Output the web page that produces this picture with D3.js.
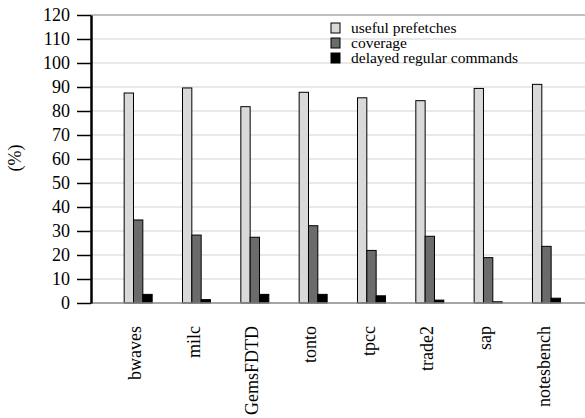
<!DOCTYPE html>
<html>
<head>
<meta charset="utf-8">
<script src="https://cdn.jsdelivr.net/npm/d3@7"></script>
<style>
  body { margin: 0; background: #fff; }
  svg text { font-family: "Liberation Serif", "DejaVu Serif", serif; fill: #000; }
</style>
</head>
<body>
<div id="chart"></div>
<script>
// data
const benchmarks = ["bwaves", "milc", "GemsFDTD", "tonto", "tpcc", "trade2", "sap", "notesbench"];
const seriesNames = ["useful prefetches", "coverage", "delayed regular commands"];
const usefulPrefetches = [87.5, 89.6, 81.8, 87.8, 85.5, 84.3, 89.4, 91.1];
const coverage = [34.6, 28.3, 27.4, 32.2, 21.9, 27.8, 18.9, 23.6];
const delayedRegular = [3.6, 1.4, 3.6, 3.6, 3.0, 1.2, 0.5, 2.0];
const yTicks = [0, 10, 20, 30, 40, 50, 60, 70, 80, 90, 100, 110, 120];

const colors = ["#d9d9d9", "#6b6b6b", "#000000"];
const series = [usefulPrefetches, coverage, delayedRegular];
const serif = "'Liberation Serif', 'DejaVu Serif', serif";

const W = 585, H = 418;
const margin = {top: 15, left: 91};
const width = W - margin.left;   // plot runs to the right edge
const height = 288;

const svg = d3.select("#chart").append("svg")
    .attr("width", W)
    .attr("height", H);

const g = svg.append("g")
    .attr("transform", `translate(${margin.left},${margin.top})`);

const y = d3.scaleLinear().domain([0, 120]).range([height, 0]);

// categories sit a bit to the right of the axis
const x = d3.scaleBand()
    .domain(benchmarks)
    .range([18, 18 + 8 * 58.33])
    .padding(0);

const barW = x.bandwidth() * 0.16;

// Grid lines
g.append("g")
    .selectAll("line")
    .data(yTicks.filter(d => d > 0 && d < 120))
    .enter()
    .append("line")
    .attr("x1", 0)
    .attr("x2", width)
    .attr("y1", d => y(d))
    .attr("y2", d => y(d))
    .attr("stroke", "#e2e2e2")
    .attr("stroke-width", 1.5);

// top border line
g.append("line")
    .attr("x1", 0).attr("x2", width)
    .attr("y1", y(120)).attr("y2", y(120))
    .attr("stroke", "#aaaaaa")
    .attr("stroke-width", 1.5);

// Bars
series.forEach((vals, si) => {
    g.append("g")
        .selectAll("rect")
        .data(vals)
        .enter()
        .append("rect")
        .attr("x", (d, i) => x(benchmarks[i]) + x.bandwidth() / 2 - 1.5 * barW + si * barW)
        .attr("y", d => y(d))
        .attr("width", barW)
        .attr("height", d => y(0) - y(d))
        .attr("fill", colors[si])
        .attr("stroke", "#000")
        .attr("stroke-width", 1);
});

// zero line
g.append("line")
    .attr("x1", 0).attr("x2", width)
    .attr("y1", y(0)).attr("y2", y(0))
    .attr("stroke", "#888888")
    .attr("stroke-width", 1.5);

// Y axis
const yAxis = g.append("g")
    .attr("font-family", serif)
    .call(d3.axisLeft(y).tickValues(yTicks).tickSize(14).tickPadding(7).tickSizeOuter(0));
yAxis.attr("font-family", serif);
yAxis.select(".domain").attr("stroke", "#000").attr("stroke-width", 2.5);
yAxis.selectAll(".tick line").attr("stroke", "#000").attr("stroke-width", 1.5);
yAxis.selectAll("text")
    .attr("font-family", serif)
    .style("font-size", "18px")
    .attr("fill", "#000");

// X labels (rotated)
g.append("g")
    .selectAll("text")
    .data(benchmarks)
    .enter()
    .append("text")
    .attr("transform", d => `translate(${x(d) + x.bandwidth() / 2 - 3},${height + 23}) rotate(-90)`)
    .attr("text-anchor", "end")
    .attr("dy", "0.35em")
    .attr("font-family", serif)
    .style("font-size", "18px")
    .text(d => d);

// Y title
svg.append("text")
    .attr("transform", `translate(15,158) rotate(-90)`)
    .attr("text-anchor", "middle")
    .attr("dy", "0.35em")
    .attr("font-family", serif)
    .style("font-size", "18px")
    .text("(%)");

// Legend
const legend = svg.append("g").attr("transform", "translate(331,23)");
seriesNames.forEach((name, i) => {
    legend.append("rect")
        .attr("x", 0)
        .attr("y", i * 15)
        .attr("width", 9)
        .attr("height", 10)
        .attr("fill", colors[i])
        .attr("stroke", "#000")
        .attr("stroke-width", 1);
    legend.append("text")
        .attr("x", 20)
        .attr("y", i * 15 + 5)
        .attr("dy", "0.35em")
        .attr("font-family", serif)
        .style("font-size", "15.5px")
        .text(name);
});
</script>
</body>
</html>
